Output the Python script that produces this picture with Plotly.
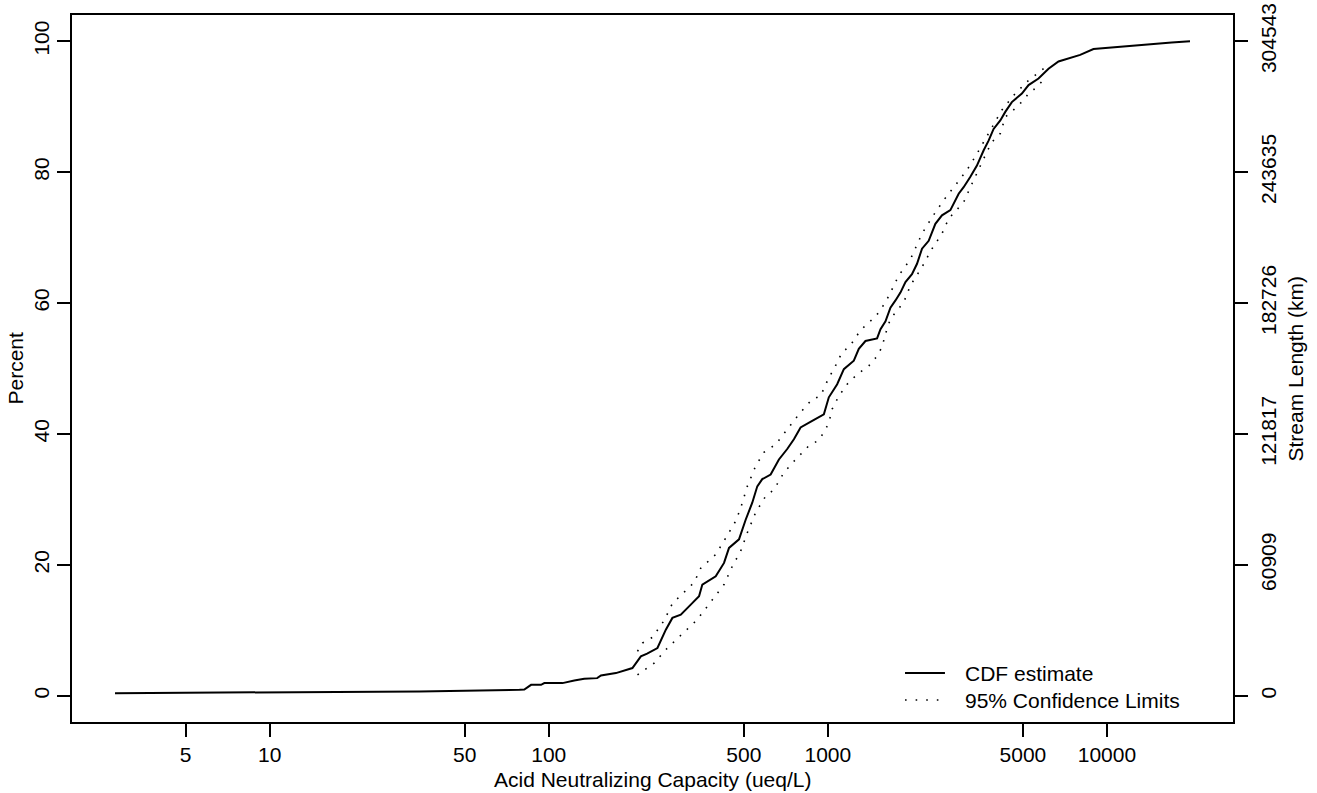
import plotly.graph_objects as go

# ---- data ----
cdf_x = [2.79, 11, 34.4, 78.5, 81.7, 86.4, 93.8, 96.4, 112.0, 123.4, 134, 149.1, 153.8, 174,
         199.4, 213.8, 225.1, 245.1, 262.7, 277.3, 297.2, 322.7, 345.5, 355, 396.5, 424.6,
         442.4, 480.4, 507.6, 536, 558.6, 582.1, 623.7, 667.8, 715.1, 755.7, 798.6, 878.8,
         967.6, 1008, 1080, 1141, 1239, 1291, 1364, 1501, 1544, 1609, 1676, 1747, 1820, 1897,
         2002, 2087, 2175, 2298, 2428, 2564, 2748, 2943, 3066, 3241, 3421, 3614, 3767, 3926,
         4149, 4323, 4564, 4958, 5238, 5687, 5929, 6176, 6706, 7384, 8020, 8950, 10700,
         14080, 17060, 19850]
cdf_y = [0.41, 0.56, 0.66, 0.92, 0.95, 1.68, 1.68, 1.94, 1.94, 2.34, 2.6, 2.7, 3.1, 3.47,
         4.24, 6.02, 6.43, 7.3, 10.1, 11.9, 12.4, 13.93, 15.2, 17.0, 18.26, 20.3,
         22.6, 23.9, 26.9, 29.5, 32.0, 33.1, 33.8, 36.1, 37.7, 39.2, 41.0, 42.0,
         43.0, 45.6, 47.6, 49.9, 51.2, 53.0, 54.2, 54.6, 56.0, 57.2, 59.3, 60.4, 61.6, 63.2,
         64.4, 66.0, 68.3, 69.5, 72.1, 73.4, 74.2, 76.7, 77.7, 79.3, 81.0, 83.3, 84.8, 86.6,
         87.9, 89.2, 90.7, 92.0, 93.3, 94.3, 95.1, 95.8, 96.9, 97.4, 97.9, 98.8, 99.1,
         99.5, 99.8, 100.0]

upper_x = [207.9, 216.6, 235.2, 259, 277.3, 309.7, 331.6, 350.4, 396.5, 430.5, 467.6, 487.2,
           514.5, 551.1, 590.2, 650, 686.4, 725.4, 787.4, 878.8, 941.6, 1008, 1051, 1125,
           1206, 1256, 1364, 1482, 1609, 1676, 1795, 1977, 2175, 2362, 2600, 2863, 3151,
           3421, 3715, 3872, 4205, 4629, 4893, 5166, 5536, 5929]
upper_y = [6.8, 8.06, 8.93, 11.5, 14.1, 16.0, 17.3, 19.5, 21.6, 24.1, 26.7, 28.7,
           32.0, 35.1, 37.2, 38.4, 39.7, 41.0, 43.0, 45.3, 45.8, 48.6, 49.9, 52.5,
           53.5, 54.8, 56.6, 57.9, 60.1, 61.6, 64.2, 66.7, 70.6, 73.1, 75.7, 78.0, 80.3,
           82.8, 85.4, 86.9, 89.5, 91.7, 92.8, 93.8, 94.8, 95.8]

lower_x = [207.9, 238.5, 266.1, 297.2, 336.2, 355, 385.5, 424.6, 454.7, 487.2, 514.5, 551.1,
           598.6, 641, 696, 766.3, 855.1, 915.7, 967.6, 1008, 1036, 1095, 1173, 1273, 1402,
           1501, 1564, 1609, 1676, 1870, 1977, 2175, 2362, 2564, 2710, 3066, 3241, 3470,
           3715, 3872, 4149, 4323, 4685, 5027, 5238, 5536, 5929]
lower_y = [3.2, 5.0, 7.3, 9.3, 11.4, 12.66, 14.7, 17.0, 19.8, 22.1, 24.9, 28.0,
           30.5, 31.5, 34.1, 36.1, 38.2, 38.9, 40.2, 41.7, 43.8, 45.8, 47.6, 49.1, 50.4,
           51.9, 53.3, 55.3, 57.6, 60.1, 62.7, 65.5, 68.3, 70.6, 72.9, 75.4, 77.7, 80.5,
           83.1, 84.6, 85.9, 88.4, 89.7, 91.0, 92.0, 92.8, 94.1]

x_ticks = [5, 10, 50, 100, 500, 1000, 5000, 10000]
x_ticklabels = ["5", "10", "50", "100", "500", "1000", "5000", "10000"]
pct_ticks = [0, 20, 40, 60, 80, 100]
length_ticklabels = ["0", "60909", "121817", "182726", "243635", "304543"]
legend_labels = ["CDF estimate", "95% Confidence Limits"]

FONT = "Liberation Sans, Arial, Helvetica, sans-serif"
FS = 21
DOT = "1.6px,8px"

fig = go.Figure()
fig.add_trace(go.Scatter(x=cdf_x, y=cdf_y, mode="lines", name=legend_labels[0],
                         line=dict(color="black", width=2), showlegend=False))
fig.add_trace(go.Scatter(x=upper_x, y=upper_y, mode="lines", name=legend_labels[1],
                         line=dict(color="black", width=1.6, dash=DOT), showlegend=False))
fig.add_trace(go.Scatter(x=lower_x, y=lower_y, mode="lines", name=legend_labels[1],
                         line=dict(color="black", width=1.6, dash=DOT), showlegend=False))
# invisible trace to anchor the right-hand axis
fig.add_trace(go.Scatter(x=[cdf_x[0]], y=[cdf_y[0]], yaxis="y2", mode="markers",
                         marker=dict(opacity=0), showlegend=False, hoverinfo="skip"))

axis_common = dict(showline=True, linecolor="black", linewidth=1.5, ticks="outside",
                   ticklen=13, tickwidth=1.5, tickcolor="black", showgrid=False,
                   zeroline=False, automargin=False,
                   tickfont=dict(family=FONT, size=FS, color="black"))

# manual legend (line samples + labels), bottom-right inside the frame
L_X0, L_X1, L_TX = 0.7175, 0.7519, 0.7674
ROW_Y = [0.0693, 0.0311]
shapes = [
    dict(type="line", xref="paper", yref="paper", x0=L_X0, x1=L_X1, y0=ROW_Y[0], y1=ROW_Y[0],
         line=dict(color="black", width=2)),
    dict(type="line", xref="paper", yref="paper", x0=L_X0, x1=L_X1, y0=ROW_Y[1], y1=ROW_Y[1],
         line=dict(color="black", width=1.6, dash="1.6px,9px")),
]
annotations = [
    dict(text=legend_labels[i], xref="paper", yref="paper", x=L_TX, y=ROW_Y[i],
         xanchor="left", yanchor="middle", showarrow=False,
         font=dict(family=FONT, size=FS, color="black"))
    for i in range(2)
] + [
    dict(text="Acid Neutralizing Capacity (ueq/L)", xref="paper", yref="paper",
         x=0.5, y=0, yshift=-57, xanchor="center", yanchor="middle", showarrow=False,
         font=dict(family=FONT, size=FS)),
    dict(text="Percent", xref="paper", yref="paper", x=0, xshift=-57, y=0.5,
         xanchor="center", yanchor="middle", textangle=-90, showarrow=False,
         font=dict(family=FONT, size=FS)),
    dict(text="Stream Length (km)", xref="paper", yref="paper", x=1, xshift=62, y=0.5,
         xanchor="center", yanchor="middle", textangle=-90, showarrow=False,
         font=dict(family=FONT, size=FS)),
]

fig.update_layout(
    width=1317, height=793,
    margin=dict(l=72, r=84, t=15, b=71),
    paper_bgcolor="white", plot_bgcolor="white",
    font=dict(family=FONT, size=FS, color="black"),
    xaxis=dict(type="log", range=[0.2915, 4.4518], tickvals=x_ticks, ticktext=x_ticklabels,
               mirror=True, **axis_common),
    yaxis=dict(range=[-4, 104], tickvals=pct_ticks, ticktext=[str(v) for v in pct_ticks],
               tickangle=-90, mirror=True, **axis_common),
    yaxis2=dict(range=[-4, 104], tickvals=pct_ticks, ticktext=length_ticklabels,
                overlaying="y", side="right", tickangle=-90, ticklabelstandoff=3,
                **axis_common),
    showlegend=False,
    shapes=shapes,
    annotations=annotations,
)

fig.write_html("out.html",
               config={"displayModeBar": False},
               post_script="document.body.style.margin='0px';"
                           "document.body.style.overflow='hidden';")
